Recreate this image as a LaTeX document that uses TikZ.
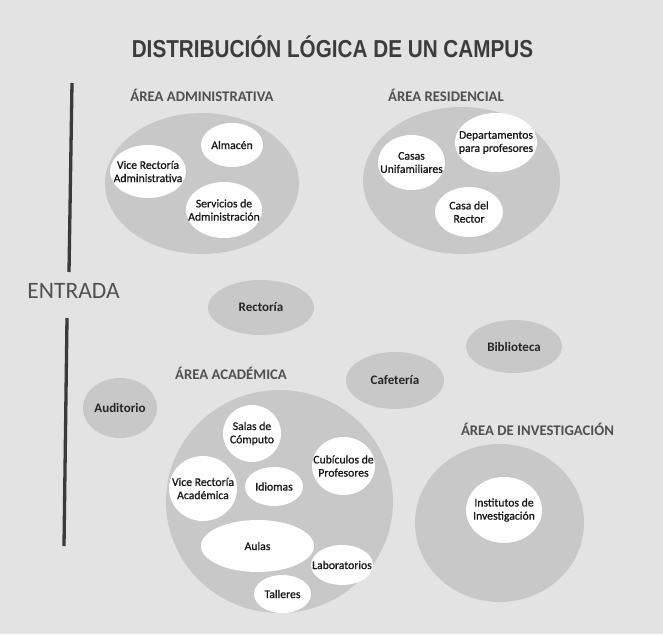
\documentclass[tikz,border=0pt]{standalone}
\usepackage{fontspec}
\usetikzlibrary{shapes.geometric}
\setmainfont{Carlito}
\newfontfamily\titlefont[FakeStretch=0.845]{Liberation Sans}
\newfontfamily\roomfont[FakeBold=0.9]{Carlito}
\definecolor{bggray}{HTML}{E3E3E3}
\definecolor{ellgray}{HTML}{C8C8C8}
\definecolor{labgray}{HTML}{505050}
\definecolor{titlegray}{HTML}{3C3C3C}
\definecolor{linegray}{HTML}{3A3A3A}
\tikzset{
  area/.style={ellipse, fill=ellgray, draw=none, inner sep=0pt},
  room/.style={ellipse, fill=white, draw=none, inner sep=0pt},
  roomtxt/.style={align=center, inner sep=0pt, font=\roomfont\fontsize{11.7}{13.2}\selectfont, text=black!90},
  areatxt/.style={align=center, inner sep=0pt, font=\fontsize{13}{15}\selectfont\bfseries, text=black!85},
  arealabel/.style={inner sep=0pt, font=\fontsize{14.7}{16}\selectfont\bfseries, text=labgray},
  entryline/.style={line width=3.3pt, draw=linegray},
}
\begin{document}
\begin{tikzpicture}[x=1pt,y=-1pt]
\fill[bggray] (0,0) rectangle (663,634);
\useasboundingbox (0,0) rectangle (663,634);

\node[inner sep=0pt, font=\titlefont\fontsize{24.5}{27}\selectfont\bfseries, text=titlegray] (title) at (332.5,46.5) {DISTRIBUCIÓN LÓGICA DE UN CAMPUS};

% entrance
\coordinate (l1a) at (72,83);
\coordinate (l1b) at (69,272);
\coordinate (l2a) at (67,318);
\coordinate (l2b) at (64,546);
\draw[entryline] (l1a) -- (l1b);
\draw[entryline] (l2a) -- (l2b);
\node[inner sep=0pt, font=\fontsize{23.5}{25}\selectfont, text=labgray] (entrada) at (73.5,291) {ENTRADA};

% area labels
\node[arealabel] (ladm) at (202,95) {ÁREA ADMINISTRATIVA};
\node[arealabel] (lres) at (446,95) {ÁREA RESIDENCIAL};
\node[arealabel] (laca) at (231,373) {ÁREA ACADÉMICA};
\node[arealabel] (linv) at (537.5,429) {ÁREA DE INVESTIGACIÓN};

% big areas
\node[area, minimum width=194pt, minimum height=141pt] (adm) at (202,183.5) {};
\node[area, minimum width=197pt, minimum height=147pt] (res) at (461.5,180.5) {};
\node[area, minimum width=227pt, minimum height=223pt] (aca) at (279.5,501.5) {};
\node[area, minimum width=169pt, minimum height=158pt] (inv) at (499.5,523) {};

% single gray buildings
\node[area, minimum width=106pt, minimum height=55pt] (rec) at (261,307.5) {};
\node[areatxt] (trec) at (rec) {Rectoría};
\node[area, minimum width=74pt, minimum height=60pt] (aud) at (120,408) {};
\node[areatxt] (taud) at (aud) {Auditorio};
\node[area, minimum width=96pt, minimum height=53pt] (bib) at (514,346.5) {};
\node[areatxt] (tbib) at (bib) {Biblioteca};
\node[area, minimum width=98pt, minimum height=57pt] (caf) at (395,380.5) {};
\node[areatxt] (tcaf) at (caf) {Cafetería};

% administrative rooms
\node[room, minimum width=62pt, minimum height=44pt] (alm) at (232,145) {};
\node[roomtxt] (talm) at (alm) {Almacén};
\node[room, minimum width=76pt, minimum height=53pt] (vra) at (148,171.5) {};
\node[roomtxt] (tvra) at (vra) {Vice Rectoría\\Administrativa};
\node[room, minimum width=76pt, minimum height=56pt] (sda) at (224,210) {};
\node[roomtxt] (tsda) at (sda) {Servicios de\\Administración};

% residential rooms
\node[room, minimum width=67pt, minimum height=55pt] (cas) at (411.5,162.5) {};
\node[roomtxt] (tcas) at (cas) {Casas\\Unifamiliares};
\node[room, minimum width=82pt, minimum height=59pt] (dep) at (496,142.5) {};
\node[roomtxt] (tdep) at (dep) {Departamentos\\para profesores};
\node[room, minimum width=68pt, minimum height=50pt] (cdr) at (469,212) {};
\node[roomtxt] (tcdr) at (cdr) {Casa del\\Rector};

% academic rooms
\node[room, minimum width=58pt, minimum height=57pt] (sal) at (252,433.5) {};
\node[roomtxt] (tsal) at (sal) {Salas de\\Cómputo};
\node[room, minimum width=63pt, minimum height=58pt] (cub) at (343.5,466) {};
\node[roomtxt] (tcub) at (cub) {Cubículos de\\Profesores};
\node[room, minimum width=68pt, minimum height=65pt] (vrac) at (203,488.5) {};
\node[roomtxt] (tvrac) at (vrac) {Vice Rectoría\\Académica};
\node[room, minimum width=58pt, minimum height=39pt] (idi) at (274,486.5) {};
\node[roomtxt] (tidi) at (idi) {Idiomas};
\node[room, minimum width=113pt, minimum height=52pt] (aul) at (257.5,546) {};
\node[roomtxt] (taul) at (aul) {Aulas};
\node[room, minimum width=62pt, minimum height=40pt] (lab) at (342,565) {};
\node[roomtxt] (tlab) at (lab) {Laboratorios};
\node[room, minimum width=57pt, minimum height=38pt] (tal) at (282.5,594) {};
\node[roomtxt] (ttal) at (tal) {Talleres};

% research
\node[room, minimum width=76pt, minimum height=66pt] (ins) at (504,510) {};
\node[roomtxt] (tins) at (ins) {Institutos de\\Investigación};
\end{tikzpicture}
\end{document}
